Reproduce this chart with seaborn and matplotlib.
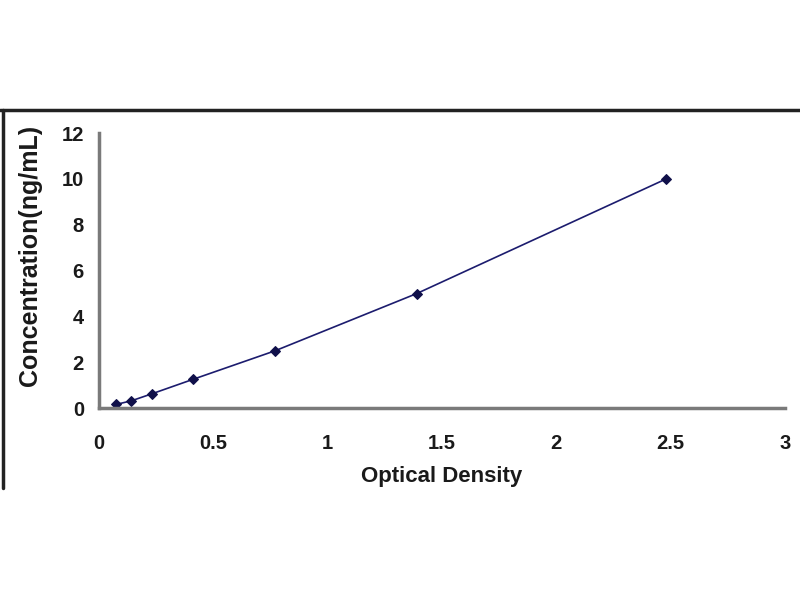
import matplotlib
matplotlib.use("Agg")
import matplotlib.pyplot as plt
import seaborn as sns
import pandas as pd
from matplotlib.lines import Line2D

optical_density = [0.074, 0.14, 0.232, 0.41, 0.77, 1.39, 2.48]
concentration = [0.156, 0.312, 0.625, 1.25, 2.5, 5.0, 10.0]
x_ticks = [0, 0.5, 1, 1.5, 2, 2.5, 3]
x_tick_labels = ["0", "0.5", "1", "1.5", "2", "2.5", "3"]
y_ticks = [0, 2, 4, 6, 8, 10, 12]

sns.set_theme(style="white")
plt.rcParams['font.family'] = ['Liberation Sans', 'DejaVu Sans']

df = pd.DataFrame({"od": optical_density, "conc": concentration})

fig = plt.figure(figsize=(8, 6), dpi=100)
ax = fig.add_axes([0.124, 0.32, 0.857, 0.458])

sns.lineplot(data=df, x="od", y="conc", ax=ax, color="#1c1c6e", linewidth=1.2,
             marker="D", markersize=5, markeredgecolor="#10104a",
             markerfacecolor="#10104a")

ax.set_xlim(0, 3)
ax.set_ylim(0, 12)
ax.set_xticks(x_ticks)
ax.set_xticklabels(x_tick_labels)
ax.set_yticks(y_ticks)
for s in ["top", "right"]:
    ax.spines[s].set_visible(False)
for s in ["left", "bottom"]:
    ax.spines[s].set_color("#7a7a7a")
    ax.spines[s].set_linewidth(2.5)
ax.tick_params(axis="both", direction="in", length=5, width=1.5, color="#7a7a7a",
               labelsize=14.5, labelcolor="#1a1a1a")
ax.tick_params(axis="x", pad=19)
ax.tick_params(axis="y", pad=11)
for lab in ax.get_xticklabels() + ax.get_yticklabels():
    lab.set_fontweight("bold")
ax.set_xlabel("Optical Density", fontsize=16, fontweight="bold", color="#1a1a1a", labelpad=9)
ax.set_ylabel("Concentration(ng/mL)", fontsize=18, fontweight="bold", color="#1a1a1a")
ax.yaxis.set_label_coords(-0.083, 0.556)

# outer frame lines (top and left)
fig.add_artist(Line2D([0, 1], [1 - 110/600, 1 - 110/600], transform=fig.transFigure,
                      color="#222222", linewidth=2.5))
fig.add_artist(Line2D([3/800, 3/800], [1 - 110/600, 1 - 488/600], transform=fig.transFigure,
                      color="#222222", linewidth=2.5))

fig.savefig("out.png", dpi=100, facecolor="white")
